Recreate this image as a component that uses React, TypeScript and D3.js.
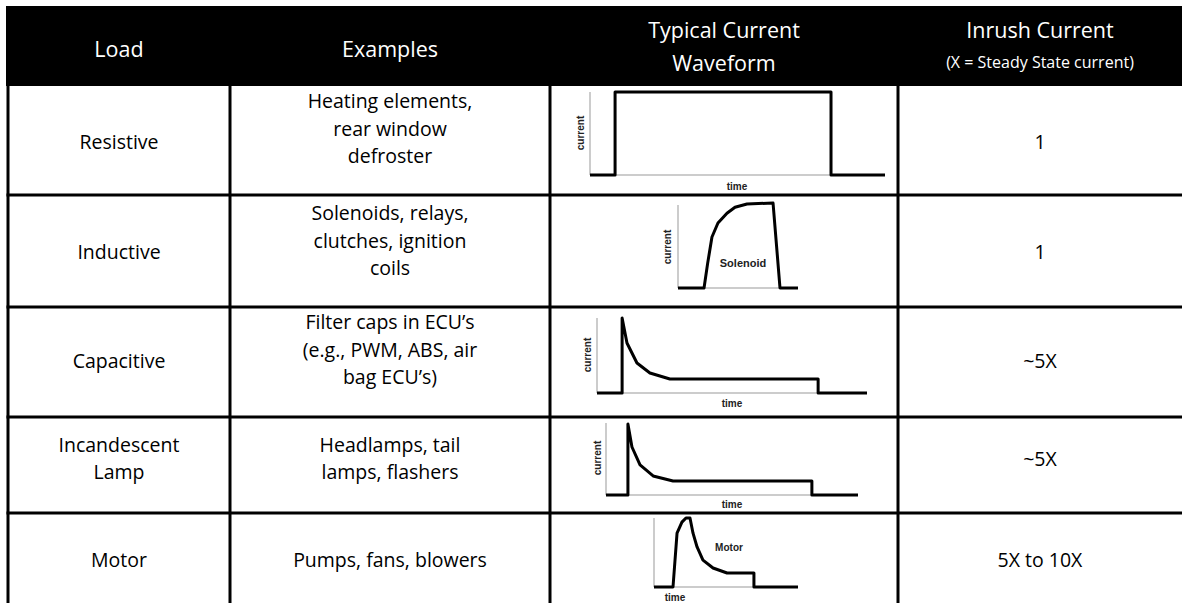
import * as d3 from 'd3';
import React from 'react';

// table content
const headers = [['Load'], ['Examples'], ['Typical Current', 'Waveform'], ['Inrush Current', '(X = Steady State current)']];
const loads = [['Resistive'], ['Inductive'], ['Capacitive'], ['Incandescent', 'Lamp'], ['Motor']];
const examples = [
  ['Heating elements,', 'rear window', 'defroster'],
  ['Solenoids, relays,', 'clutches, ignition', 'coils'],
  ['Filter caps in ECU\u2019s', '(e.g., PWM, ABS, air', 'bag ECU\u2019s)'],
  ['Headlamps, tail', 'lamps, flashers'],
  ['Pumps, fans, blowers'],
];
const inrush = ['1', '1', '~5X', '~5X', '5X to 10X'];

// waveforms: [time %, current %]
const resistiveWave: [number, number][] = [[0, 0], [8.5, 0], [8.5, 100], [81.7, 100], [81.7, 0], [100, 0]];
const inductiveWave: [number, number][] = [
  [0, 0], [21.7, 0], [24.7, 29], [28.3, 60], [33.3, 76.5], [40.8, 88], [47.5, 95], [57.5, 98.8], [79.2, 100], [85, 0], [100, 0],
];
const capacitiveWave: [number, number][] = [
  [0, 0], [9.3, 0], [9.3, 100], [11.1, 66.7], [14.8, 40], [19.6, 26.7], [27, 18.7], [81.9, 18.7], [81.9, 0], [100, 0],
];
const lampWave: [number, number][] = [
  [0, 0], [8.7, 0], [8.7, 100], [10.3, 67.6], [13.5, 42.3], [18.7, 26.8], [26.6, 19.7], [81.7, 19.7], [81.7, 0], [100, 0],
];
const motorWave: [number, number][] = [
  [0, 0], [13.2, 0], [16, 78], [19.4, 94], [22.2, 100], [25, 100], [27.1, 78], [29.9, 58], [34, 39], [41, 27.5], [50.7, 20.3], [69.4, 20.3], [69.4, 0], [100, 0],
];
const waves = [resistiveWave, inductiveWave, capacitiveWave, lampWave, motorWave];

// where each little plot sits
const panels = [
  { x: [590, 885], y: [175, 92], top: 92, cur: [580, 133], time: [737, 186], note: null as null | { t: string; x: number; y: number; s: number } },
  { x: [678, 798], y: [288, 203], top: 205, cur: [667, 247], time: null as null | number[], note: { t: 'Solenoid', x: 743, y: 263, s: 11 } },
  { x: [597, 867], y: [393, 318], top: 318, cur: [587, 355], time: [732, 403], note: null },
  { x: [606, 858], y: [495, 424], top: 423, cur: [597, 458], time: [732, 504], note: null },
  { x: [654, 798], y: [587, 518], top: 518, cur: null as null | number[], time: [675, 597], note: { t: 'Motor', x: 729, y: 547, s: 10 } },
];

const W = 1182, H = 603;
const colX = [8, 230, 550, 898, 1182];
const rowY = [86, 195, 307, 417, 513, 603];
const lineH = 27.3;
const font = "'Open Sans', sans-serif";
const smallFont = "'Liberation Sans', Arial, sans-serif";
const bodySize = 19.5;
const headSize = 21.5;

const Waveform: React.FC<{ i: number }> = ({ i }) => {
  const p = panels[i];
  const xs = d3.scaleLinear().domain([0, 100]).range(p.x);
  const ys = d3.scaleLinear().domain([0, 100]).range(p.y);
  const line = d3.line<[number, number]>().x(d => xs(d[0])).y(d => ys(d[1]));
  return (
    <g>
      <line x1={xs(0)} x2={xs(100)} y1={ys(0)} y2={ys(0)} stroke="#999" strokeWidth={1} />
      <line x1={xs(0)} x2={xs(0)} y1={p.top} y2={ys(0)} stroke="#999" strokeWidth={1} />
      <path d={line(waves[i]) ?? ''} fill="none" stroke="#000" strokeWidth={3} strokeLinejoin="round" />
      {p.cur && (
        <text transform={`translate(${p.cur[0]},${p.cur[1]}) rotate(-90)`} textAnchor="middle" dominantBaseline="central"
          fontFamily={smallFont} fontWeight="bold" fontSize={10} fill="#222">current</text>
      )}
      {p.time && (
        <text x={p.time[0]} y={p.time[1]} textAnchor="middle" dominantBaseline="central"
          fontFamily={smallFont} fontWeight="bold" fontSize={10} fill="#222">time</text>
      )}
      {p.note && (
        <text x={p.note.x} y={p.note.y} textAnchor="middle" dominantBaseline="central"
          fontFamily={smallFont} fontWeight="bold" fontSize={p.note.s} fill="#222">{p.note.t}</text>
      )}
    </g>
  );
};

const Cell: React.FC<{ lines: string[]; col: number; cy: number }> = ({ lines, col, cy }) => {
  const cx = (colX[col] + colX[col + 1]) / 2;
  const start = cy - ((lines.length - 1) * lineH) / 2;
  return (
    <g>
      {lines.map((t, k) => (
        <text key={k} x={cx} y={start + k * lineH} textAnchor="middle" dominantBaseline="central"
          fontFamily={font} fontSize={bodySize} fill="#000">{t}</text>
      ))}
    </g>
  );
};

export default function App() {
  const rowCenters = [141, 251, 360, 458, 559];
  return (
    <svg width={W} height={H} style={{ position: 'absolute', left: 0, top: 0 }}>
      <rect width={W} height={H} fill="#fff" />
      {/* header bar */}
      <rect x={6} y={6} width={W - 6} height={80} fill="#000" />
      {headers.map((h, c) => {
        const cx = (colX[c] + colX[c + 1]) / 2;
        if (h.length === 1) {
          return <text key={c} x={cx} y={48} textAnchor="middle" dominantBaseline="central" fontFamily={font} fontSize={headSize} fill="#fff">{h[0]}</text>;
        }
        return (
          <g key={c}>
            <text x={cx} y={29} textAnchor="middle" dominantBaseline="central" fontFamily={font} fontSize={headSize} fill="#fff">{h[0]}</text>
            <text x={cx} y={62} textAnchor="middle" dominantBaseline="central" fontFamily={font}
              fontSize={c === 3 ? 16 : headSize} fill="#fff">{h[1]}</text>
          </g>
        );
      })}
      {/* grid */}
      <line x1={8} x2={8} y1={86} y2={H} stroke="#000" strokeWidth={3} />
      {colX.slice(1, 4).map((x, k) => (
        <line key={k} x1={x} x2={x} y1={86} y2={H} stroke="#000" strokeWidth={3} />
      ))}
      {rowY.slice(1, 5).map((y, k) => (
        <line key={k} x1={6.5} x2={W} y1={y} y2={y} stroke="#000" strokeWidth={3} />
      ))}
      {loads.map((l, r) => (
        <g key={r}>
          <Cell lines={l} col={0} cy={rowCenters[r]} />
          <Cell lines={examples[r]} col={1} cy={examples[r].length === 3 ? rowCenters[r] - 11 + (r === 0 ? -2 : 0) : rowCenters[r]} />
          <Cell lines={[inrush[r]]} col={3} cy={rowCenters[r]} />
          <Waveform i={r} />
        </g>
      ))}
    </svg>
  );
}
